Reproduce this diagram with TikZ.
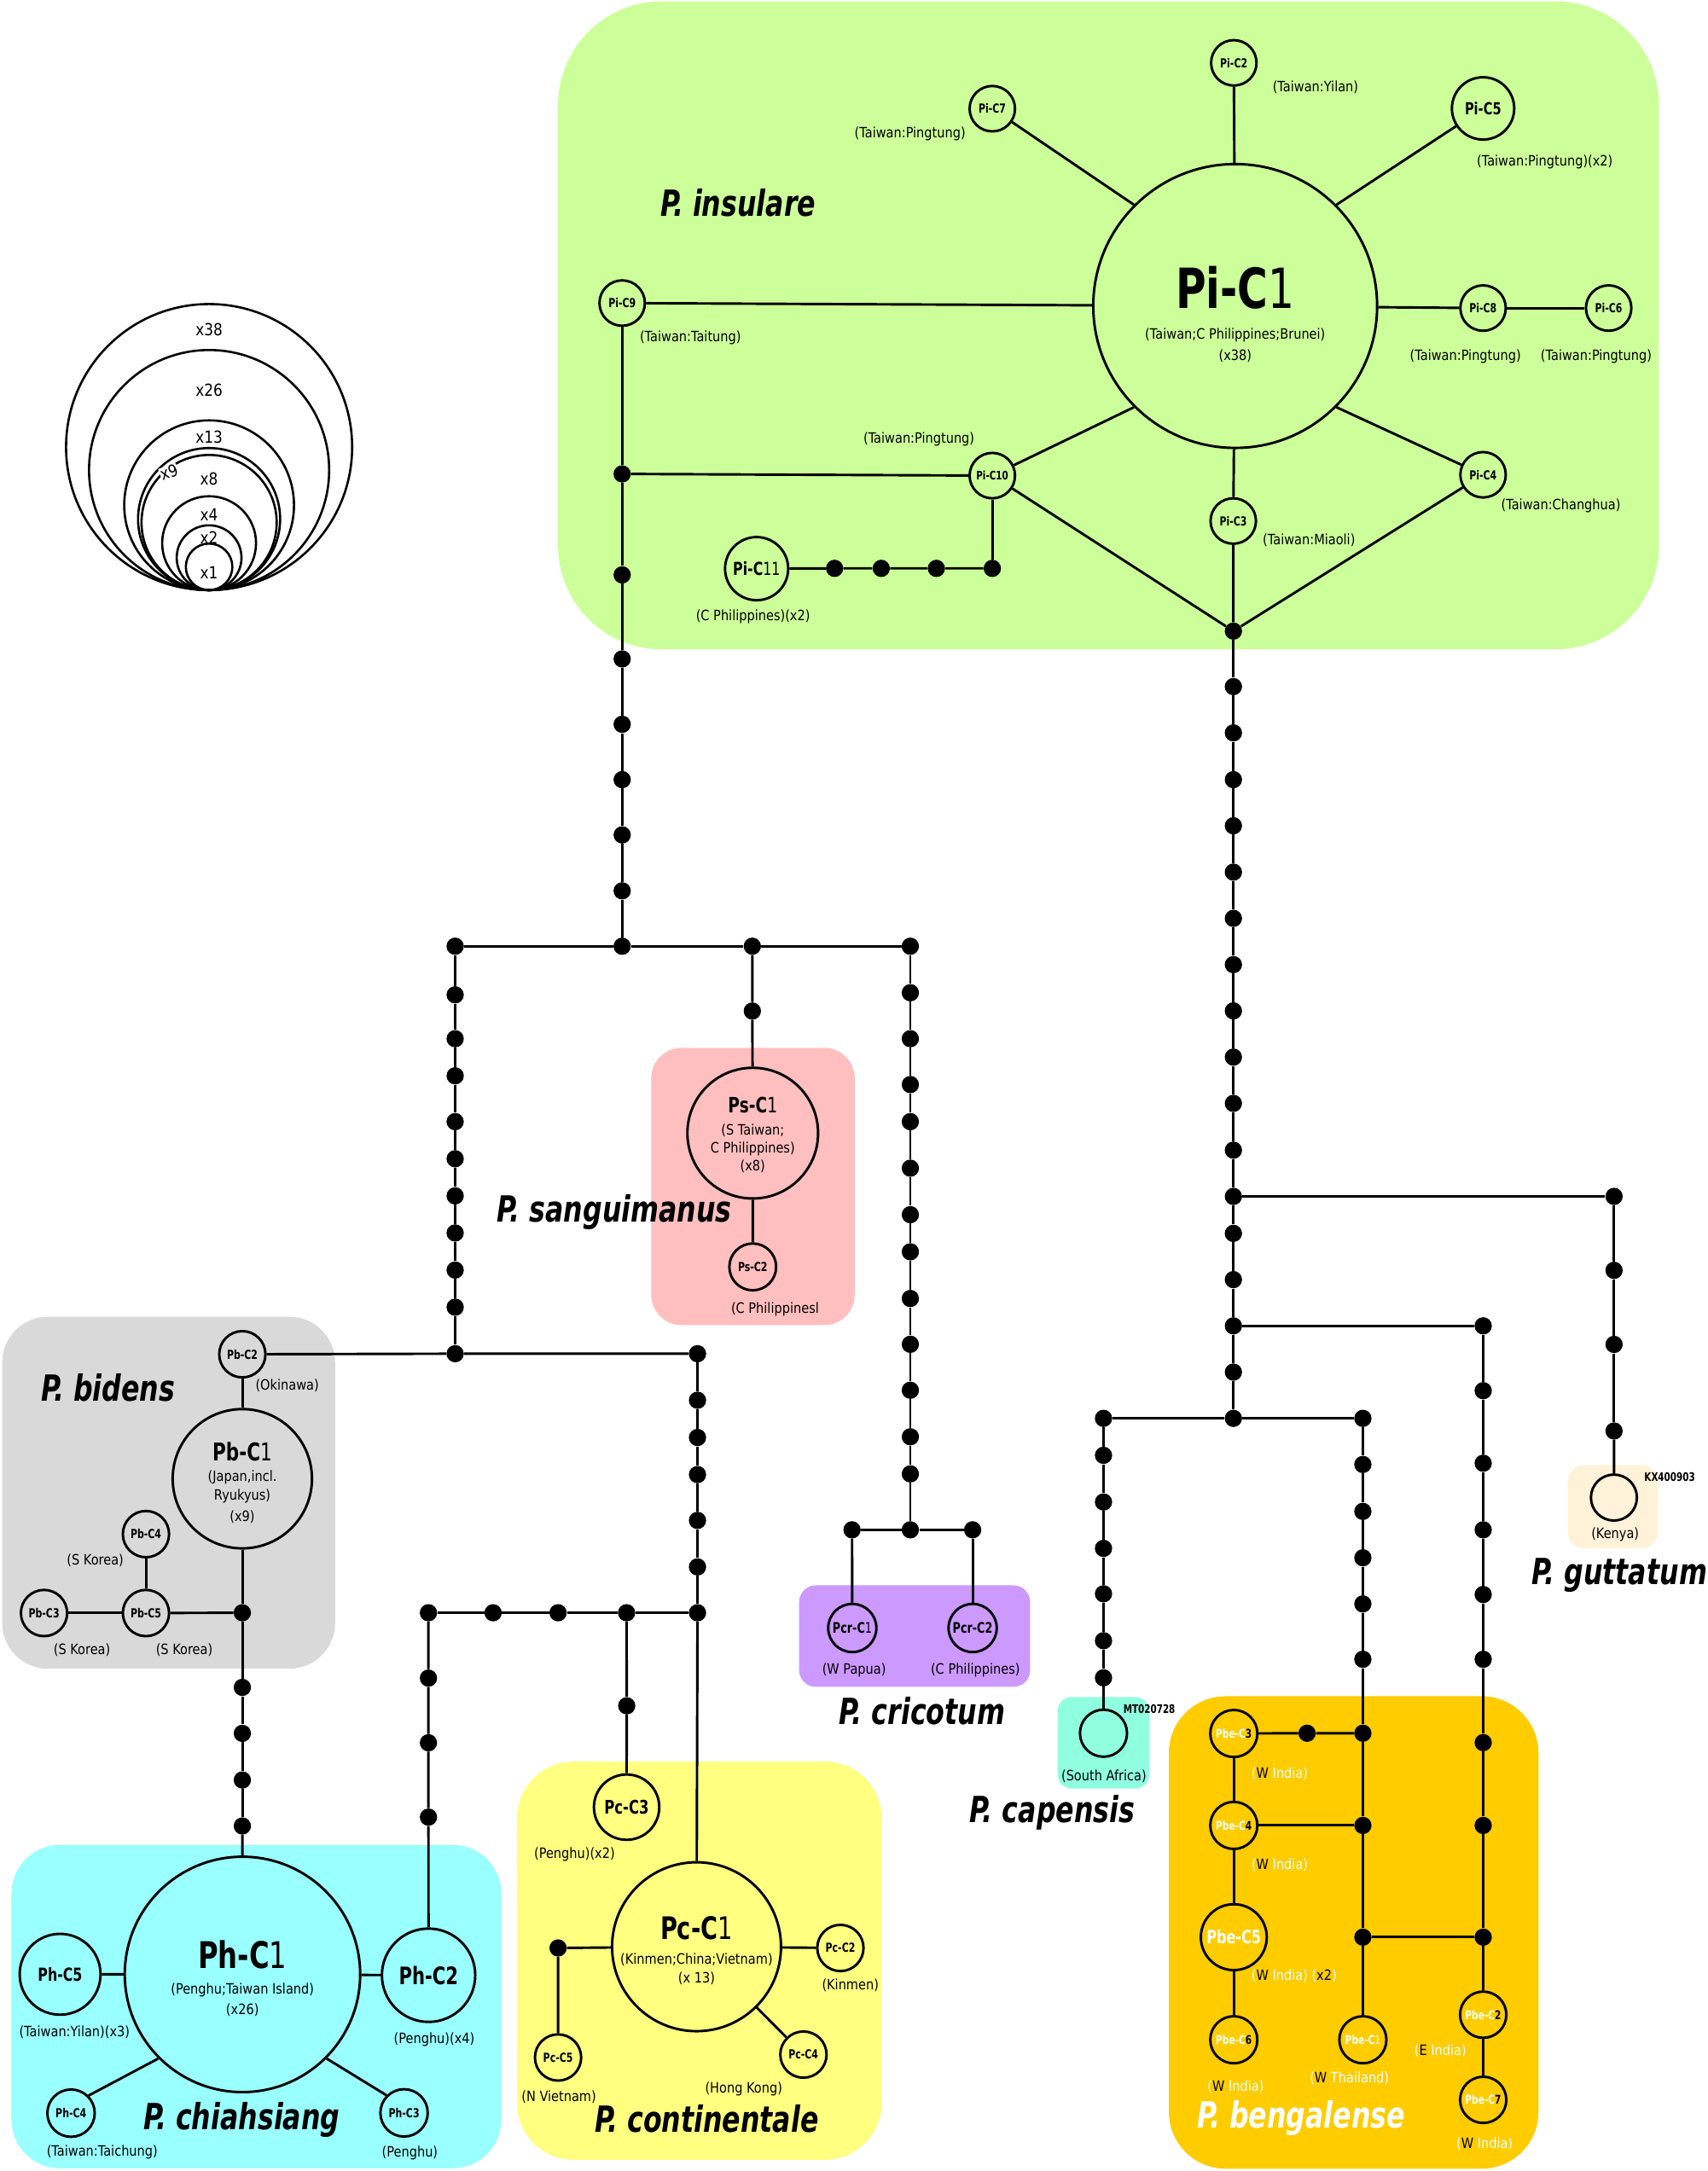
\documentclass[tikz,border=0pt]{standalone}
\usepackage{fontspec}
\setmainfont{DejaVu Sans}
\newfontfamily\rf[FakeStretch=0.87]{DejaVu Sans}
\newfontfamily\hf[FakeStretch=0.75]{DejaVu Sans}
\definecolor{cins}{HTML}{CCFF99}
\definecolor{csan}{HTML}{FFBFBF}
\definecolor{cbid}{HTML}{D9D9D9}
\definecolor{cchi}{HTML}{99FFFF}
\definecolor{ccon}{HTML}{FFFF80}
\definecolor{ccri}{HTML}{CC99FF}
\definecolor{ccap}{HTML}{8FFFE0}
\definecolor{cben}{HTML}{FFCC00}
\definecolor{cgut}{HTML}{FFF2D9}
\newcommand\wh[1]{{\color{white}#1}}
\begin{document}
\begin{tikzpicture}[x=1pt,y=-1pt,
  hap/.style={circle,draw,line width=1.8pt,inner sep=0pt,minimum size=#1},
  hap/.default=33pt,
  dotn/.style={circle,fill=black,inner sep=0pt,minimum size=12.5pt},
  edge/.style={line width=1.8pt},
  lab/.style={font=\rf\fontsize{10.3}{12}\selectfont,inner sep=0pt},
  hsz/.style={font=\hf\bfseries\fontsize{#1}{#1}\selectfont},
  spc/.style={font=\hf\bfseries\itshape\fontsize{26}{28}\selectfont,inner sep=0pt},
  leg/.style={font=\rf\fontsize{12}{14}\selectfont,inner sep=0.5pt},
]
\useasboundingbox[fill=white] (0,0) rectangle (1233,1568);
% ---------- background boxes
\fill[cins, rounded corners=75pt] (403,1) rectangle (1198,469);
\fill[csan, rounded corners=22pt] (470.3,756.8) rectangle (617.2,957.1);
\fill[cbid, rounded corners=33pt] (1.6,951) rectangle (242,1205.2);
\fill[cchi, rounded corners=35pt] (8.3,1332.5) rectangle (362,1566);
\fill[ccon, rounded corners=41pt] (373.4,1272.3) rectangle (636.7,1559.9);
\fill[ccri, rounded corners=12pt] (577.1,1145) rectangle (743.9,1218.3);
\fill[ccap, rounded corners=10pt] (763.9,1225.7) rectangle (829.9,1291.8);
\fill[cben, rounded corners=41pt] (844.1,1225.1) rectangle (1111,1566.3);
\fill[cgut, rounded corners=12pt] (1132.2,1058.1) rectangle (1197.3,1118.3);

% ---------- legend
\foreach \r in {103.3,86.7,61.3,51.3,48.8,33.9,23.4,16.8}
  \draw[line width=1.6pt] (151,426.2-\r) circle[radius=\r];
\node[leg] (L38) at (151,238.2) {x38};
\node[leg] (L26) at (151,281.8) {x26};
\node[leg] (L13) at (151,316) {x13};
\node[leg, fill=white, rotate=20, inner sep=0.2pt] (L9) at (122,341) {x9};
\node[leg] (L8) at (151,346) {x8};
\node[leg] (L4) at (151,371.7) {x4};
\node[leg] (L2) at (151,388.2) {x2};
\node[leg] (L1) at (151,413.9) {x1};

% ---------- P. insulare
\node[hap=205pt] (piC1) at (892,221) {};
\node[hsz=40] (tpi1) at (892,207.6) {Pi-C{\mdseries 1}};
\node[lab] (tpi1a) at (892,241.9) {(Taiwan;C Philippines;Brunei)};
\node[lab] (tpi1b) at (892,256.9) {(x38)};
\node[hap=32.8pt, hsz=9] (piC2) at (891,45.4) {Pi-C2};
\node[hap=32.8pt, hsz=9] (piC7) at (716.6,78.5) {Pi-C7};
\node[hap=45pt, hsz=12] (piC5) at (1071,78.3) {Pi-C5};
\node[hap=32.8pt, hsz=9] (piC9) at (449.3,218.9) {Pi-C9};
\node[hap=32.8pt, hsz=9] (piC8) at (1071,222.5) {Pi-C8};
\node[hap=32.8pt, hsz=9] (piC6) at (1161.7,222.5) {Pi-C6};
\node[hap=32.8pt, hsz=8.5] (piC10) at (716.6,343.5) {Pi-C10};
\node[hap=32.8pt, hsz=9] (piC3) at (890.6,376.3) {Pi-C3};
\node[hap=32.8pt, hsz=9] (piC4) at (1071,342.9) {Pi-C4};
\node[hap=45.6pt, hsz=13] (piC11) at (546.4,410.7) {Pi-C{\mdseries 11}};
\node[dotn] (i1) at (602.7,410.5) {};
\node[dotn] (i2) at (636.4,410.5) {};
\node[dotn] (i3) at (676.2,410.5) {};
\node[dotn] (i4) at (716.6,410.5) {};
\node[spc] (spIns) at (533,146.4) {P. insulare};
\node[lab] (tpi2) at (950,63.3) {(Taiwan:Yilan)};
\node[lab] (tpi7) at (657.2,96.5) {(Taiwan:Pingtung)};
\node[lab] (tpi5) at (1115.6,117) {(Taiwan:Pingtung)(x2)};
\node[lab] (tpi9) at (498.6,244) {(Taiwan:Taitung)};
\node[lab] (tpi8) at (1058.3,257.4) {(Taiwan:Pingtung)};
\node[lab] (tpi6) at (1152.7,257.4) {(Taiwan:Pingtung)};
\node[lab] (tpi10) at (663.6,317.2) {(Taiwan:Pingtung)};
\node[lab] (tpi4) at (1127.2,365) {(Taiwan:Changhua)};
\node[lab] (tpi3) at (945.3,390.4) {(Taiwan:Miaoli)};
\node[lab] (tpi11) at (543.8,445.6) {(C Philippines)(x2)};

% ---------- main column
\foreach \y [count=\i] in {455.8,495.9,529.3,563.1,596.4,629.9,663.3,696.7,730.1,763.5,796.9,830.7,864.1,890.8,924.2,957.6,991.0,1024.4}
  \node[dotn] (m\i) at (890.7,\y) {};
% left column from Pi-C9
\foreach \y [count=\i] in {342.3,415.2,475.9,523.1,563.1,603.0,643.4,683.4}
  \node[dotn] (a\i) at (449.3,\y) {};
% row 683
\foreach \y [count=\i] in {683.4,718.5,750.2,777,810.1,836.9,863.7,890.5,917.3,944.1,977.7}
  \node[dotn] (l\i) at (328.7,\y) {};
\foreach \y [count=\i] in {683.4,717,750.2,783.3,810.1,843.7,877.3,904.1,937.8,970.9,1004.1,1037.7,1064.5,1104.9}
  \node[dotn] (c\i) at (657.4,\y) {};
\node[dotn] (r3) at (543.3,683.4) {};
\node[dotn] (ps0) at (543.3,730.2) {};

% ---------- P. sanguimanus
\node[hap=94.4pt] (psC1) at (543.6,818.4) {};
\node[hsz=15.3] (tps1) at (543.6,797.9) {Ps-C{\mdseries 1}};
\node[lab] (tps1a) at (543.6,816.4) {(S Taiwan;};
\node[lab] (tps1b) at (543.6,829.7) {C Philippines)};
\node[lab] (tps1c) at (543.6,842.1) {(x8)};
\node[hap=33.8pt, hsz=9] (psC2) at (543.6,915) {Ps-C2};
\node[lab] (tps2) at (559.7,945.8) {(C Philippinesl};
\node[spc] (spSan) at (443.7,875.4) {P. sanguimanus};

% ---------- P. cricotum
\node[dotn] (cr1) at (615.3,1104.9) {};
\node[dotn] (cr3) at (702.4,1104.9) {};
\node[hap=34.8pt, hsz=10.5] (pcrC1) at (615.5,1175.8) {Pcr-C{\mdseries 1}};
\node[hap=34.8pt, hsz=10.5] (pcrC2) at (702.4,1175.8) {Pcr-C2};
\node[lab] (tpcr1) at (616.8,1206) {(W Papua)};
\node[lab] (tpcr2) at (704.4,1206) {(C Philippines)};
\node[spc] (spCri) at (666,1236) {P. cricotum};

% ---------- P. bidens
\node[hap=33.4pt, hsz=9] (pbC2) at (175,978.1) {Pb-C2};
\node[hap=100.6pt] (pbC1) at (175,1068) {};
\node[hsz=17.7] (tpb1) at (175,1048.5) {Pb-C{\mdseries 1}};
\node[lab] (tpb1a) at (175,1067) {(Japan,incl.};
\node[lab] (tpb1b) at (175,1080.7) {Ryukyus)};
\node[lab] (tpb1c) at (175,1095.7) {(x9)};
\node[hap=33.4pt, hsz=9] (pbC4) at (105.4,1108) {Pb-C4};
\node[hap=33.4pt, hsz=9] (pbC5) at (105.4,1165) {Pb-C5};
\node[hap=33.4pt, hsz=9] (pbC3) at (31.8,1165) {Pb-C3};
\node[dotn] (pb0) at (175,1164.8) {};
\foreach \y [count=\i] in {1218.7,1251.9,1285.6,1318.8}
  \node[dotn] (q\i) at (175,\y) {};
\node[spc] (spBid) at (78,1002.3) {P. bidens};
\node[lab] (tpb2) at (207.4,1000.6) {(Okinawa)};
\node[lab] (tpb4) at (68.8,1127.1) {(S Korea)};
\node[lab] (tpb3) at (59.2,1191.8) {(S Korea)};
\node[lab] (tpb5) at (133.1,1191.8) {(S Korea)};

% ---------- middle columns
\foreach \y [count=\i] in {977.7,1011.3,1038.2,1065,1098.1,1131.7,1164.8}
  \node[dotn] (b\i) at (503.7,\y) {};
\foreach \x [count=\i] in {309.4,356.1,403,452.5}
  \node[dotn] (h\i) at (\x,1164.8) {};
\node[dotn] (k1) at (452.6,1232) {};
\foreach \y [count=\i] in {1212,1258.7,1312.4}
  \node[dotn] (g\i) at (309.4,\y) {};

% ---------- P. chiahsiang
\node[hap=170pt] (phC1) at (175.1,1426) {};
\node[hsz=26.5] (tph1) at (175.1,1412) {Ph-C{\mdseries 1}};
\node[lab] (tph1a) at (175.1,1437) {(Penghu;Taiwan Island)};
\node[lab] (tph1b) at (175.1,1451.6) {(x26)};
\node[hap=58.4pt, hsz=13] (phC5) at (43.4,1425.9) {Ph-C5};
\node[hap=67.4pt, hsz=17.4] (phC2) at (309.5,1426.6) {Ph-C2};
\node[hap=34.2pt, hsz=9] (phC4) at (51.3,1526.2) {Ph-C4};
\node[hap=34.2pt, hsz=9] (phC3) at (291.8,1526) {Ph-C3};
\node[lab] (tph5) at (53.8,1467.9) {(Taiwan:Yilan)(x3)};
\node[lab] (tph2) at (313.6,1473) {(Penghu)(x4)};
\node[lab] (tph4) at (73.8,1554.3) {(Taiwan:Taichung)};
\node[lab] (tph3) at (296,1554.7) {(Penghu)};
\node[spc] (spChi) at (174.5,1531) {P. chiahsiang};

% ---------- P. continentale
\node[hap=122pt] (pcC1) at (503,1406) {};
\node[hsz=22.4] (tpc1) at (503,1392.5) {Pc-C{\mdseries 1}};
\node[lab] (tpc1a) at (503,1415.1) {(Kinmen;China;Vietnam)};
\node[lab] (tpc1b) at (503,1429) {(x 13)};
\node[hap=47.2pt, hsz=13.5] (pcC3) at (452.5,1305.2) {Pc-C3};
\node[hap=33.4pt, hsz=9] (pcC2) at (606.9,1406.9) {Pc-C2};
\node[hap=33.4pt, hsz=9] (pcC4) at (580.2,1483.9) {Pc-C4};
\node[hap=33.4pt, hsz=9] (pcC5) at (403,1486) {Pc-C5};
\node[dotn] (pc0) at (403,1406.9) {};
\node[lab] (tpc3) at (414.9,1339.5) {(Penghu)(x2)};
\node[lab] (tpc2) at (614.1,1434) {(Kinmen)};
\node[lab] (tpc4) at (537.1,1508.5) {(Hong Kong)};
\node[lab] (tpc5) at (403.6,1514.7) {(N Vietnam)};
\node[spc] (spCon) at (510.4,1530.1) {P. continentale};

% ---------- right side columns
\foreach \y [count=\i] in {864.1,917.5,971,1033.5}
  \node[dotn] (t\i) at (1165.6,\y) {};
\foreach \y [count=\i] in {957.6,1004.4,1056.8,1104.9,1151.6,1198.4,1258.6,1318.4,1399.1}
  \node[dotn] (u\i) at (1071.1,\y) {};
\foreach \y [count=\i] in {1024.4,1051.1,1084.8,1118.3,1151.1,1185,1211.8}
  \node[dotn] (v\i) at (796.9,\y) {};
\foreach \y [count=\i] in {1024.4,1057.7,1091.6,1125.1,1158.4,1198.4,1251.8,1318.4,1399.1}
  \node[dotn] (w\i) at (984.2,\y) {};
\node[dotn] (e1) at (943.9,1251.8) {};

% ---------- P. guttatum / capensis
\node[hap=33.2pt] (gut) at (1165.5,1081.6) {};
\node[hsz=8.5, anchor=west] (tgut) at (1184,1067) {KX400903};
\node[lab] (tgut2) at (1166.4,1108.4) {(Kenya)};
\node[spc] (spGut) at (1169.5,1137.8) {P. guttatum};
\node[hap=34pt] (cap) at (796.9,1251.8) {};
\node[hsz=8.5, anchor=west] (tcap) at (807.8,1234.3) {MT020728};
\node[lab] (tcap2) at (797.2,1282.6) {(South Africa)};
\node[spc] (spCap) at (760,1309) {P. capensis};

% ---------- P. bengalense
\node[hap=34pt, hsz=8.7] (pbeC3) at (891,1252) {\wh{Pbe-C}3};
\node[hap=34pt, hsz=8.7] (pbeC4) at (891,1318.4) {\wh{Pbe-C}4};
\node[hap=47.6pt, hsz=13.2, text=white] (pbeC5) at (891,1399.1) {Pbe-C5};
\node[hap=34pt, hsz=8.7] (pbeC6) at (891,1473.2) {\wh{Pbe-C}6};
\node[hap=34pt, hsz=8.7, text=white] (pbeC1) at (984.2,1473.2) {Pbe-C{\mdseries 1}};
\node[hap=33.4pt, hsz=8.7] (pbeC2) at (1071.1,1455.1) {\wh{Pbe-C}2};
\node[hap=33.4pt, hsz=8.7] (pbeC7) at (1071.1,1516.6) {\wh{Pbe-C}7};
\node[lab] (tbe3) at (924.2,1280.9) {\wh{(}W\wh{\ India)}};
\node[lab] (tbe4) at (924.2,1347.2) {\wh{(}W\wh{\ India)}};
\node[lab] (tbe5) at (934.5,1427.3) {\wh{(}W\wh{\ India)\ (}x2\wh{)}};
\node[lab] (tbe6) at (892.4,1507.1) {\wh{(}W\wh{\ India)}};
\node[lab] (tbe1) at (974.5,1501.2) {\wh{(}W\wh{\ Thailand)}};
\node[lab] (tbe2) at (1040.2,1481.5) {\wh{(}E\wh{\ India)}};
\node[lab] (tbe7) at (1072.1,1548.2) {\wh{(}W\wh{\ India)}};
\node[spc, text=white] (spBen) at (939.6,1530.1) {P. bengalense};

% ---------- edges
\begin{scope}[edge]
% insulare star
\draw (piC1) -- (piC2);
\draw (piC1.135) -- (piC7);
\draw (piC1.45) -- (piC5);
\draw (piC1) -- (piC9);
\draw (piC1) -- (piC8);
\draw (piC8) -- (piC6);
\draw (piC1.225) -- (piC10);
\draw (piC1) -- (piC3);
\draw (piC1.-45) -- (piC4);
\draw (piC10) -- (m1);
\draw (piC3) -- (m1);
\draw (piC4) -- (m1);
\draw (piC10) -- (i4);
\draw (piC11) -- (i1) -- (i2) -- (i3) -- (i4);
\draw (piC9) -- (a1);
\draw (a1) -- (piC10);
% chains
\foreach \i [evaluate=\i as \j using int(\i+1)] in {1,...,17} \draw (m\i) -- (m\j);
\foreach \i [evaluate=\i as \j using int(\i+1)] in {1,...,7} \draw (a\i) -- (a\j);
\foreach \i [evaluate=\i as \j using int(\i+1)] in {1,...,10} \draw (l\i) -- (l\j);
\foreach \i [evaluate=\i as \j using int(\i+1)] in {1,...,13} \draw (c\i) -- (c\j);
\foreach \i [evaluate=\i as \j using int(\i+1)] in {1,...,6} \draw (b\i) -- (b\j);
\foreach \i [evaluate=\i as \j using int(\i+1)] in {1,...,3} \draw (t\i) -- (t\j);
\foreach \i [evaluate=\i as \j using int(\i+1)] in {1,...,8} \draw (u\i) -- (u\j);
\foreach \i [evaluate=\i as \j using int(\i+1)] in {1,...,6} \draw (v\i) -- (v\j);
\foreach \i [evaluate=\i as \j using int(\i+1)] in {1,...,8} \draw (w\i) -- (w\j);
\foreach \i [evaluate=\i as \j using int(\i+1)] in {1,...,3} \draw (q\i) -- (q\j);
% row 683
\draw (l1) -- (a8) -- (r3) -- (c1);
\draw (r3) -- (ps0) -- (psC1) -- (psC2);
% cricotum
\draw (cr1) -- (c14) -- (cr3);
\draw (cr1) -- (pcrC1);
\draw (cr3) -- (pcrC2);
% row 977
\draw (pbC2) -- (l11) -- (b1);
% bidens
\draw (pbC2) -- (pbC1) -- (pb0);
\draw (pb0) -- (pbC5);
\draw (pbC5) -- (pbC4);
\draw (pbC5) -- (pbC3);
\draw (pb0) -- (q1);
\draw (q4) -- (phC1);
% row 1165
\draw (h1) -- (h2) -- (h3) -- (h4) -- (b7);
\draw (b7) -- (pcC1);
\draw (h4) -- (k1) -- (pcC3);
\draw (h1) -- (g1) -- (g2) -- (g3) -- (phC2);
% chiahsiang
\draw (phC1) -- (phC5);
\draw (phC1) -- (phC2);
\draw (phC1.225) -- (phC4.45);
\draw (phC1.-45) -- (phC3.135);
% continentale
\draw (pcC1) -- (pcC2);
\draw (pcC1) -- (pcC4);
\draw (pcC1) -- (pc0) -- (pcC5);
% right side
\draw (m13) -- (t1);
\draw (t4) -- (gut);
\draw (m16) -- (u1);
\draw (u9) -- (pbeC2) -- (pbeC7);
\draw (v1) -- (m18) -- (w1);
\draw (v7) -- (cap);
\draw (w9) -- (pbeC1);
\draw (w9) -- (u9);
\draw (pbeC3) -- (e1) -- (w7);
\draw (pbeC4) -- (w8);
\draw (pbeC3) -- (pbeC4) -- (pbeC5) -- (pbeC6);
\end{scope}
\end{tikzpicture}
\end{document}
